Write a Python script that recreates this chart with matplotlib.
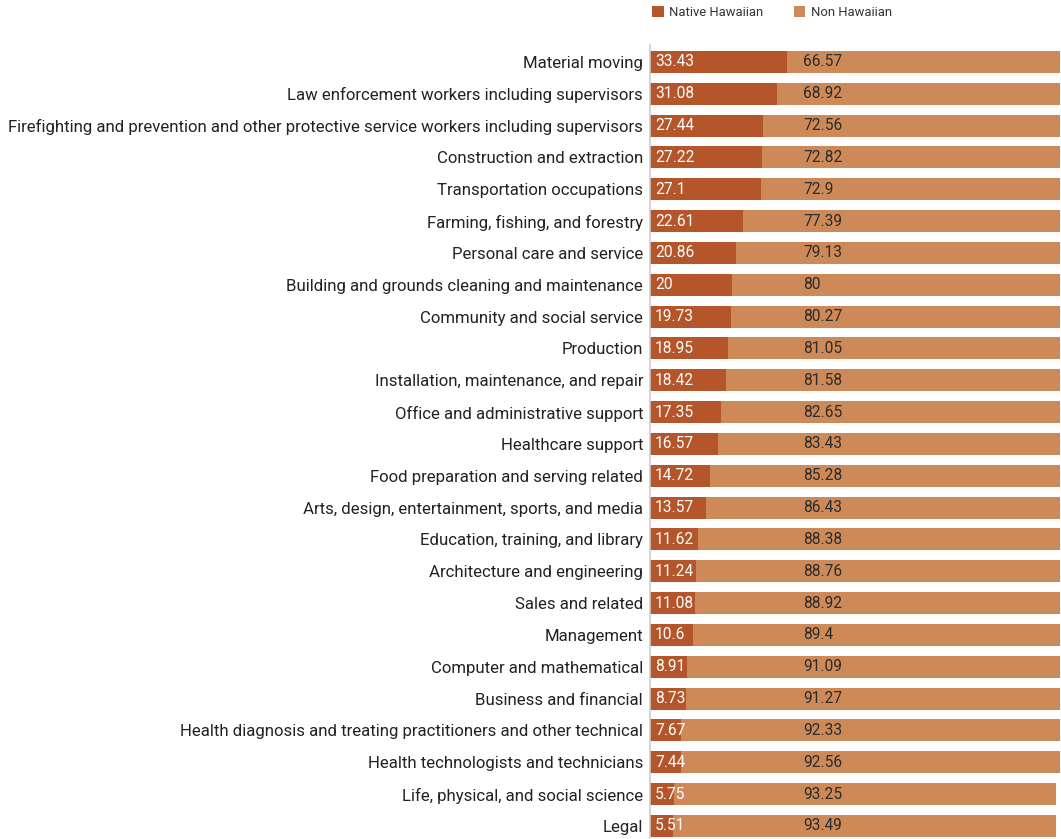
import matplotlib.pyplot as plt
import numpy as np

plt.rcParams['font.family'] = ['Roboto', 'DejaVu Sans']

occupations = [
    "Material moving",
    "Law enforcement workers including supervisors",
    "Firefighting and prevention and other protective service workers including supervisors",
    "Construction and extraction",
    "Transportation occupations",
    "Farming, fishing, and forestry",
    "Personal care and service",
    "Building and grounds cleaning and maintenance",
    "Community and social service",
    "Production",
    "Installation, maintenance, and repair",
    "Office and administrative support",
    "Healthcare support",
    "Food preparation and serving related",
    "Arts, design, entertainment, sports, and media",
    "Education, training, and library",
    "Architecture and engineering",
    "Sales and related",
    "Management",
    "Computer and mathematical",
    "Business and financial",
    "Health diagnosis and treating practitioners and other technical",
    "Health technologists and technicians",
    "Life, physical, and social science",
    "Legal",
]
native = [33.43, 31.08, 27.44, 27.22, 27.1, 22.61, 20.86, 20, 19.73, 18.95,
          18.42, 17.35, 16.57, 14.72, 13.57, 11.62, 11.24, 11.08, 10.6, 8.91,
          8.73, 7.67, 7.44, 5.75, 5.51]
non_native = [66.57, 68.92, 72.56, 72.82, 72.9, 77.39, 79.13, 80, 80.27, 81.05,
              81.58, 82.65, 83.43, 85.28, 86.43, 88.38, 88.76, 88.92, 89.4, 91.09,
              91.27, 92.33, 92.56, 93.25, 93.49]

native_color = "#b5552a"
non_color = "#cd8a58"

fig = plt.figure(figsize=(10.61, 8.39), dpi=100)
ax = fig.add_axes([650 / 1061, 0, 410 / 1061, 1 - 45 / 839])

y = np.arange(len(occupations))
h = 0.69
ax.barh(y, native, h, color=native_color, label="Native Hawaiian")
ax.barh(y, non_native, h, left=native, color=non_color, label="Non Hawaiian")

for yi, a, b in zip(y, native, non_native):
    ax.text(1.2, yi, f"{a:g}", color="white", va="center", ha="left", fontsize=11.2)
    ax.text(37.3, yi, f"{b:g}", color="#2b2b2b", va="center", ha="left", fontsize=11.2)

ax.set_xlim(0, 100)
ax.set_ylim(len(occupations) - 1 + 0.41, -0.53)
ax.set_yticks(y)
ax.set_yticklabels(occupations, fontsize=12.1, color="#222222")
ax.tick_params(axis="y", length=0, pad=5)
ax.set_xticks([])
for s in ["top", "right", "bottom"]:
    ax.spines[s].set_visible(False)
ax.spines["left"].set_color("#cccccc")
ax.spines["left"].set_linewidth(1.2)

fig.legend(loc="upper left", bbox_to_anchor=(640 / 1061, 1.007), ncol=2,
           frameon=False, fontsize=9.4, handlelength=0.9, handleheight=0.9,
           handletextpad=0.45, columnspacing=2.3, labelcolor="#333333")

fig.savefig("out.png", dpi=100)
